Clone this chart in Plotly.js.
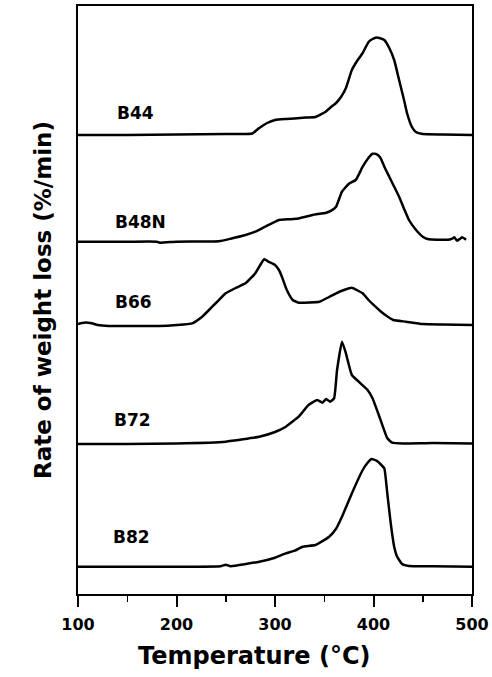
<!DOCTYPE html>
<html><head><meta charset="utf-8">
<script src="https://cdn.plot.ly/plotly-3.0.1.min.js"></script>
<style>html,body{margin:0;padding:0;background:#fff}#chart{width:492px;height:677px}</style>
</head><body><div id="chart"></div>
<script>
// ---------- DATA (temperature in °C, rate of weight loss in arbitrary units) ----------
const sampleNames = ["B44", "B48N", "B66", "B72", "B82"];

const tB44 = [100,150,200,250,270,277,284,292,300,310,320,331,341,351,357,362,367,372,378,384,389,395,399,403,406,411,416,421,426,431,434,439,443,450,470,500];
const rB44 = [0,0,0.5,1,1,1.5,7,12,15,16,16.5,17.5,18,23,28,32,38,47,65,75,82,93,96,97.5,97,95,87,75,55,35,22,8,3,1,0.5,0];

const tB48N = [100,150,180,183,200,243,255,270,280,290,304,315,324,338,352,357,362,368,375,382,389,395,399,403,407,411,416,421,426,431,436,443,450,456,465,476,480,482,485,488,490,494];
const rB48N = [0,0,0,-1,0,0.5,3,6.7,10,15,21.7,22.5,23.3,26.7,29,31,35,50,58,61.7,75,84,88,87.5,84,75,65,55,45,33,21.7,12,5,2.4,2,2,3,4.4,1,3,4.4,2];

const tB66 = [100,104,108,114,120,131,160,182,200,216,226,233,240,250,260,270,280,285,289,294,300,304,307,312,318,324,335,345,355,362,370,378,383,389,395,402,408,412,420,433,450,470,500];
const rB66 = [1,2,2.5,1.7,0,-1,-1,-1,0,1.7,8.3,15,22,31.7,37,41.7,51.7,60,65.7,63,60,55,48.3,35,25,22.3,22.5,23.3,28,31.7,35,37.3,35,31.7,25,18.3,13,10,5,3.3,1,0.5,0];

const tB72 = [100,150,200,250,284,300,311,324,334,343,348,352,356,360,363,368,372,378,385,394,399,406,414,419,430,460,500];
const rB72 = [0,0,0.5,2.3,7.3,12,17.3,27.3,39,44,41.3,45,42.3,45.7,74,102.3,90.7,69,62.3,54,45.7,27.3,5.7,1.3,0.5,1,0.5];

const tB82 = [100,150,200,245,250,255,284,300,311,320,328,341,355,362,368,378,389,394,398,403,407,411,414,417.5,421,424,429,436,460,500];
const rB82 = [0,0,0,0.5,2,0.5,5,9,13.3,16,20,21.7,30,38,50,73.3,96.7,104,107.7,106,102.7,98.3,73.3,43.3,20,10,2.7,0.7,0.5,0];

const xTickVals = [100, 200, 300, 400, 500];
const xTickText = ["100", "200", "300", "400", "500"];

// ---------- LAYOUT CONFIG (positions / styles) ----------
const seriesT = [tB44, tB48N, tB66, tB72, tB82];
const seriesR = [rB44, rB48N, rB66, rB72, rB82];
const PLOT_H = 588;                              // plot height in px
const baselines = [459, 352.3, 269, 150, 27.3];  // baseline of each curve, px above x axis
const labelPos = [[0.094, 0.818], [0.089, 0.633], [0.089, 0.497], [0.086, 0.296], [0.084, 0.097]];
const FONT = "DejaVu Sans, Liberation Sans, Arial, sans-serif";

const traces = seriesT.map((t, i) => ({
  x: t, y: seriesR[i], type: "scatter", mode: "lines",
  name: sampleNames[i], showlegend: false,
  xaxis: "x", yaxis: i === 0 ? "y" : "y" + (i + 1),
  line: {color: "#000", width: 2.5, shape: "spline", smoothing: 0.4}
}));

const layout = {
  width: 492, height: 677,
  margin: {l: 78, r: 20, t: 6, b: 83},
  paper_bgcolor: "#fff", plot_bgcolor: "#fff",
  showlegend: false,
  font: {family: FONT, color: "#000"},
  xaxis: {
    range: [100, 500], tickvals: xTickVals, ticktext: xTickText,
    ticks: "outside", ticklen: 11, tickwidth: 2, tickcolor: "#000",
    minor: {tick0: 100, dtick: 50, ticks: "outside", ticklen: 6, tickwidth: 1.5, tickcolor: "#000"},
    showline: true, mirror: true, linewidth: 2, linecolor: "#000",
    showgrid: false, zeroline: false,
    tickfont: {family: FONT, size: 16, weight: "bold", color: "#000"},
    ticklabelstandoff: 4
  },
  yaxis: {
    range: [-baselines[0], PLOT_H - baselines[0]],
    showline: true, mirror: true, linewidth: 2, linecolor: "#000",
    showticklabels: false, ticks: "", showgrid: false, zeroline: false,
    title: {text: "Rate of weight loss (%/min)", standoff: 18,
            font: {family: FONT, size: 23, weight: "bold", color: "#000"}}
  },
  annotations: sampleNames.map((n, i) => ({
    text: n, xref: "paper", yref: "paper", x: labelPos[i][0], y: labelPos[i][1],
    xanchor: "left", yanchor: "middle", showarrow: false,
    font: {family: FONT, size: 17, weight: "bold", color: "#000"}
  })).concat([{
    text: "Temperature (°C)", xref: "paper", yref: "paper", x: 0.449, y: -0.105,
    xanchor: "center", yanchor: "middle", showarrow: false,
    font: {family: FONT, size: 24, weight: "bold", color: "#000"}
  }])
};
for (let i = 1; i < 5; i++) {
  layout["yaxis" + (i + 1)] = {
    overlaying: "y", visible: false,
    range: [-baselines[i], PLOT_H - baselines[i]],
    showgrid: false, zeroline: false
  };
}

Plotly.newPlot("chart", traces, layout, {displayModeBar: false, staticPlot: true});
</script>
</body></html>
